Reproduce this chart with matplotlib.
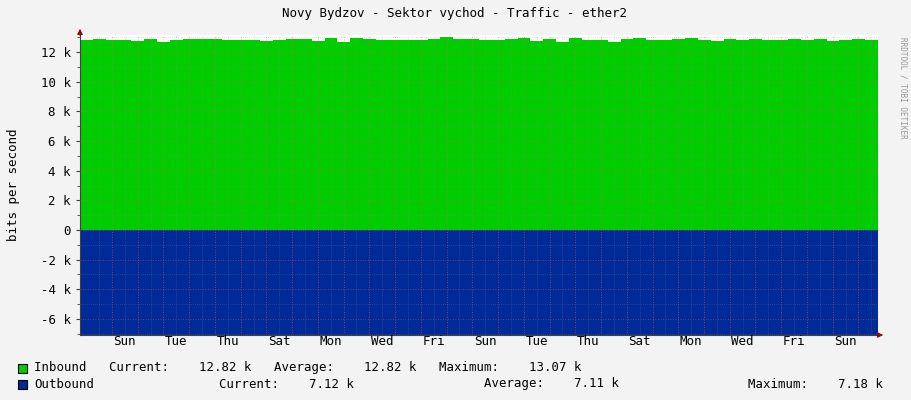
import matplotlib
matplotlib.use("Agg")
import matplotlib.pyplot as plt
import numpy as np

inbound = [12.78,12.88,12.84,12.80,12.74,12.90,12.70,12.84,12.90,12.88,12.86,12.78,12.82,12.84,12.76,12.80,
           12.86,12.90,12.72,12.92,12.66,12.94,12.88,12.78,12.82,12.80,12.83,12.90,13.02,12.86,12.88,12.80,
           12.78,12.90,12.94,12.76,12.86,12.66,12.92,12.84,12.82,12.68,12.88,12.96,12.83,12.78,12.88,12.92,
           12.83,12.76,12.88,12.80,12.86,12.78,12.83,12.90,12.80,12.86,12.76,12.84,12.88,12.82]
outbound = [7.05,7.10,7.06,7.10,7.11,7.05,7.10,7.06,7.10,7.11,7.05,7.10,7.06,7.10,7.11,7.05,
            7.10,7.06,7.10,7.05,7.11,7.10,7.06,7.10,7.05,7.10,7.11,7.05,7.10,7.06,7.10,7.11,
            7.05,7.10,7.06,7.10,7.05,7.11,7.10,7.06,7.10,7.05,7.10,7.11,7.05,7.10,7.06,7.10,
            7.05,7.11,7.10,7.06,7.10,7.05,7.10,7.11,7.05,7.10,7.06,7.10,7.11,7.12]
day_labels = ["Sun","Tue","Thu","Sat","Mon","Wed","Fri","Sun","Tue","Thu","Sat","Mon","Wed","Fri","Sun"]
ytick_vals = [-6,-4,-2,0,2,4,6,8,10,12]
ytick_labels = ["-6 k","-4 k","-2 k","0","2 k","4 k","6 k","8 k","10 k","12 k"]

plt.rcParams['font.family'] = ['DejaVu Sans Mono']
fig = plt.figure(figsize=(9.11,4.0), dpi=100, facecolor='#f3f3f3')
ax = fig.add_axes([80/911, 65/400, 798/911, 300/400], facecolor='white')

n = len(inbound)
x = np.linspace(0, 31, n+1)
ax.stairs(inbound, x, baseline=0, fill=True, color='#00cc00', lw=0)
ax.stairs([-v for v in outbound], x, baseline=0, fill=True, color='#002a97', lw=0)

ax.set_xlim(0, 31)
ax.set_ylim(-7.08, 13.15)
off = 1.24
ax.set_xticks([off + k for k in range(30)], minor=False)
ax.set_xticks([off + k + 0.5 for k in range(-1, 31) if 0 < off + k + 0.5 < 31], minor=True)
ax.grid(which='major', axis='x', color='#e06060', ls=(0,(1,2)), lw=0.6, alpha=0.7)
ax.grid(which='minor', axis='x', color='#909090', ls=(0,(1,2)), lw=0.5, alpha=0.5)
ax.set_yticks(ytick_vals)
ax.set_yticklabels(ytick_labels)
ax.set_yticks(np.arange(-7, 13.2, 1.0), minor=True)
ax.grid(which='major', axis='y', color='#e06060', ls=(0,(1,2)), lw=0.6, alpha=0.6)
ax.grid(which='minor', axis='y', color='#909090', ls=(0,(1,2)), lw=0.5, alpha=0.5)
ax.set_axisbelow(False)
ax.tick_params(axis='x', which='both', length=0, labelbottom=False)
ax.tick_params(axis='y', which='major', length=3, color='#404040', labelsize=9)
ax.tick_params(axis='y', which='minor', length=2, color='#404040')
for i, lab in enumerate(day_labels):
    ax.text(off + 0.5 + 2*i, -7.08, lab, transform=ax.transData, ha='center', va='top', fontsize=9)
for s in ['top','right']:
    ax.spines[s].set_visible(False)
ax.spines['left'].set_color('#404040')
ax.spines['bottom'].set_color('#404040')
ax.annotate('', xy=(0, 1.03), xytext=(0, 0.99), xycoords='axes fraction',
            arrowprops=dict(arrowstyle='-|>', color='#7f1010', lw=0.8, mutation_scale=8))
ax.annotate('', xy=(1.01, 0), xytext=(0.995, 0), xycoords='axes fraction',
            arrowprops=dict(arrowstyle='-|>', color='#7f1010', lw=0.8, mutation_scale=8))
ax.set_ylabel('bits per second', fontsize=9)
ax.yaxis.set_label_coords(-60/798, 0.5)

fig.text(455/911, 1-14/400, 'Novy Bydzov - Sektor vychod - Traffic - ether2', ha='center', va='center', fontsize=9)
fig.text(903/911, 0.78, 'RRDTOOL / TOBI OETIKER', rotation=270, ha='center', va='center', fontsize=5.5, color='#999999')

def box(xp, yp, c):
    fig.patches.append(plt.Rectangle((xp/911, 1-yp/400-5/400), 9/911, 9/400, transform=fig.transFigure,
                                     facecolor=c, edgecolor='black', lw=0.8))
box(18, 368, '#00cc00'); box(18, 384, '#002a97')
fs = 8.9
fig.text(34/911, 1-368/400, 'Inbound   Current:    12.82 k   Average:    12.82 k   Maximum:    13.07 k', va='center', fontsize=fs)
fig.text(34/911, 1-384/400, 'Outbound', va='center', fontsize=fs)
fig.text(219/911, 1-384/400, 'Current:    7.12 k', va='center', fontsize=fs)
fig.text(484/911, 1-384/400, 'Average:    7.11 k', va='center', fontsize=fs)
fig.text(748/911, 1-384/400, 'Maximum:    7.18 k', va='center', fontsize=fs)
fig.savefig('out.png', dpi=100, facecolor=fig.get_facecolor())
